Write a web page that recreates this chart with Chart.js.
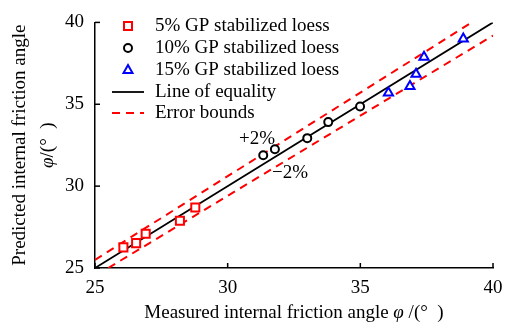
<!DOCTYPE html>
<html>
<head>
<meta charset="utf-8">
<script src="https://cdn.jsdelivr.net/npm/chart.js@4.4.0/dist/chart.umd.min.js"></script>
<style>
html, body { margin: 0; padding: 0; background: #fff; }
#wrap { width: 512px; height: 327px; position: relative; }
</style>
</head>
<body>
<div id="wrap"><canvas id="chart"></canvas></div>
<script>
// values
const measured5 = [26.07, 26.55, 26.91, 28.20, 28.78];
const predicted5 = [26.26, 26.52, 27.09, 27.89, 28.69];
const measured10 = [31.34, 31.78, 33.00, 33.79, 34.99];
const predicted10 = [31.89, 32.25, 32.93, 33.91, 34.86];
const measured15 = [36.06, 36.87, 37.10, 37.40, 38.88];
const predicted15 = [35.70, 36.10, 36.84, 37.88, 39.00];

const equalityX = [25, 40];
const equalityY = [25, 40];
const upperX = [25, 39.2];
const upperY = [25.5, 40];
const lowerX = [25.5, 40];
const lowerY = [25, 39.2];

const seriesNames = ['5% GP stabilized loess', '10% GP stabilized loess', '15% GP stabilized loess', 'Line of equality', 'Error bounds'];
const boundText = ['+2%', '\u22122%'];
const boundX = [31.11, 32.35];
const boundY = [32.88, 30.81];

const FONT = "'Liberation Serif', 'Times New Roman', serif";

const pts = (xs, ys) => xs.map((x, i) => ({ x: x, y: ys[i] }));

// inward tick marks, like the original figure
const innerTicks = {
    id: 'innerTicks',
    afterDraw(chart) {
        const { ctx, chartArea, scales } = chart;
        ctx.save();
        ctx.strokeStyle = '#000';
        ctx.lineWidth = 1.5;
        scales.x.ticks.forEach(t => {
            const px = scales.x.getPixelForValue(t.value);
            ctx.beginPath();
            ctx.moveTo(px, chartArea.bottom);
            ctx.lineTo(px, chartArea.bottom - 5);
            ctx.stroke();
        });
        scales.y.ticks.forEach(t => {
            const py = scales.y.getPixelForValue(t.value);
            ctx.beginPath();
            ctx.moveTo(chartArea.left, py);
            ctx.lineTo(chartArea.left + 5, py);
            ctx.stroke();
        });
        ctx.restore();
    }
};

// draws a line of text whose parts may be italic, centred on x
function mixedText(ctx, parts, x, y) {
    let w = 0;
    parts.forEach(p => { ctx.font = (p[1] ? 'italic ' : '') + '19px ' + FONT; w += ctx.measureText(p[0]).width; });
    let cx = x - w / 2;
    parts.forEach(p => {
        ctx.font = (p[1] ? 'italic ' : '') + '19px ' + FONT;
        ctx.fillText(p[0], cx, y);
        cx += ctx.measureText(p[0]).width;
    });
}

const axisTitles = {
    id: 'axisTitles',
    afterDraw(chart) {
        const { ctx, chartArea } = chart;
        const midX = (chartArea.left + chartArea.right) / 2;
        const midY = (chartArea.top + chartArea.bottom) / 2;
        ctx.save();
        ctx.fillStyle = '#000';
        ctx.textAlign = 'left';
        ctx.textBaseline = 'middle';
        mixedText(ctx, [['Measured internal friction angle ', false], ['\u03c6', true], [' /(\u00b0  )', false]], midX, 313);
        ctx.translate(20, midY);
        ctx.rotate(-Math.PI / 2);
        mixedText(ctx, [['Predicted internal friction angle', false]], 0, 0);
        mixedText(ctx, [['\u03c6', true], ['/(\u00b0  )', false]], 0, 28);
        ctx.restore();
    }
};

const boundLabels = {
    id: 'boundLabels',
    afterDraw(chart) {
        const { ctx, scales } = chart;
        ctx.save();
        ctx.font = '19px ' + FONT;
        ctx.fillStyle = '#000';
        ctx.textAlign = 'center';
        ctx.textBaseline = 'middle';
        boundText.forEach((txt, i) => {
            ctx.fillText(txt, scales.x.getPixelForValue(boundX[i]), scales.y.getPixelForValue(boundY[i]));
        });
        ctx.restore();
    }
};

const insideLegend = {
    id: 'insideLegend',
    afterDraw(chart) {
        const { ctx } = chart;
        const rows = [26, 48, 70, 92, 113];
        ctx.save();
        ctx.font = '19px ' + FONT;
        ctx.textBaseline = 'middle';
        ctx.textAlign = 'left';
        seriesNames.forEach((name, i) => {
            const ds = chart.data.datasets[i];
            const y = rows[i];
            const mx = 128;
            ctx.strokeStyle = ds.borderColor;
            ctx.lineWidth = 2;
            ctx.setLineDash([]);
            ctx.beginPath();
            if (ds.pointStyle === 'rect') {
                ctx.rect(mx - 4, y - 4, 8, 8);
            } else if (ds.pointStyle === 'circle') {
                ctx.arc(mx, y, 4, 0, Math.PI * 2);
            } else if (ds.pointStyle === 'triangle') {
                ctx.moveTo(mx, y - 5);
                ctx.lineTo(mx + 4.5, y + 3);
                ctx.lineTo(mx - 4.5, y + 3);
                ctx.closePath();
            } else {
                ctx.lineWidth = ds.borderWidth;
                ctx.setLineDash(ds.borderDash || []);
                ctx.moveTo(112, y);
                ctx.lineTo(144, y);
            }
            ctx.stroke();
            ctx.fillStyle = '#000';
            ctx.fillText(name, 155, y);
        });
        ctx.restore();
    }
};

new Chart(document.getElementById('chart'), {
    type: 'scatter',
    data: {
        datasets: [
            { label: seriesNames[0], data: pts(measured5, predicted5), pointStyle: 'rect', pointRadius: 5.7, borderColor: '#ff0000', backgroundColor: '#fff', pointBorderWidth: 2, order: 0 },
            { label: seriesNames[1], data: pts(measured10, predicted10), pointStyle: 'circle', pointRadius: 4, borderColor: '#000', backgroundColor: '#fff', pointBorderWidth: 2, order: 0 },
            { label: seriesNames[2], data: pts(measured15, predicted15), pointStyle: 'triangle', pointRadius: 5.3, borderColor: '#0000ff', backgroundColor: '#fff', pointBorderWidth: 2, order: 0 },
            { label: seriesNames[3], type: 'line', data: pts(equalityX, equalityY), borderColor: '#000', borderWidth: 1.8, pointRadius: 0, fill: false, order: 1 },
            { label: seriesNames[4], type: 'line', data: pts(upperX, upperY), borderColor: '#ff0000', borderWidth: 2, borderDash: [8, 6], pointRadius: 0, fill: false, order: 1 },
            { label: 'lower', type: 'line', data: pts(lowerX, lowerY), borderColor: '#ff0000', borderWidth: 2, borderDash: [8, 6], pointRadius: 0, fill: false, order: 1 }
        ]
    },
    options: {
        responsive: true,
        maintainAspectRatio: false,
        animation: false,
        layout: { padding: { top: 16, right: 19, bottom: 0, left: 0 } },
        plugins: { legend: { display: false }, tooltip: { enabled: false } },
        scales: {
            x: {
                type: 'linear', min: 25, max: 40,
                afterFit: s => { s.height = 59; },
                ticks: { stepSize: 5, color: '#000', padding: 9, font: { family: FONT, size: 19 } },
                grid: { display: false, drawTicks: false },
                border: { display: true, color: '#000', width: 1.5 },
                title: { display: false }
            },
            y: {
                type: 'linear', min: 25, max: 40,
                afterFit: s => { s.width = 95; },
                ticks: { stepSize: 5, color: '#000', padding: 11, font: { family: FONT, size: 19 } },
                grid: { display: false, drawTicks: false },
                border: { display: true, color: '#000', width: 1.5 },
                title: { display: false }
            }
        }
    },
    plugins: [innerTicks, axisTitles, boundLabels, insideLegend]
});
</script>
</body>
</html>
